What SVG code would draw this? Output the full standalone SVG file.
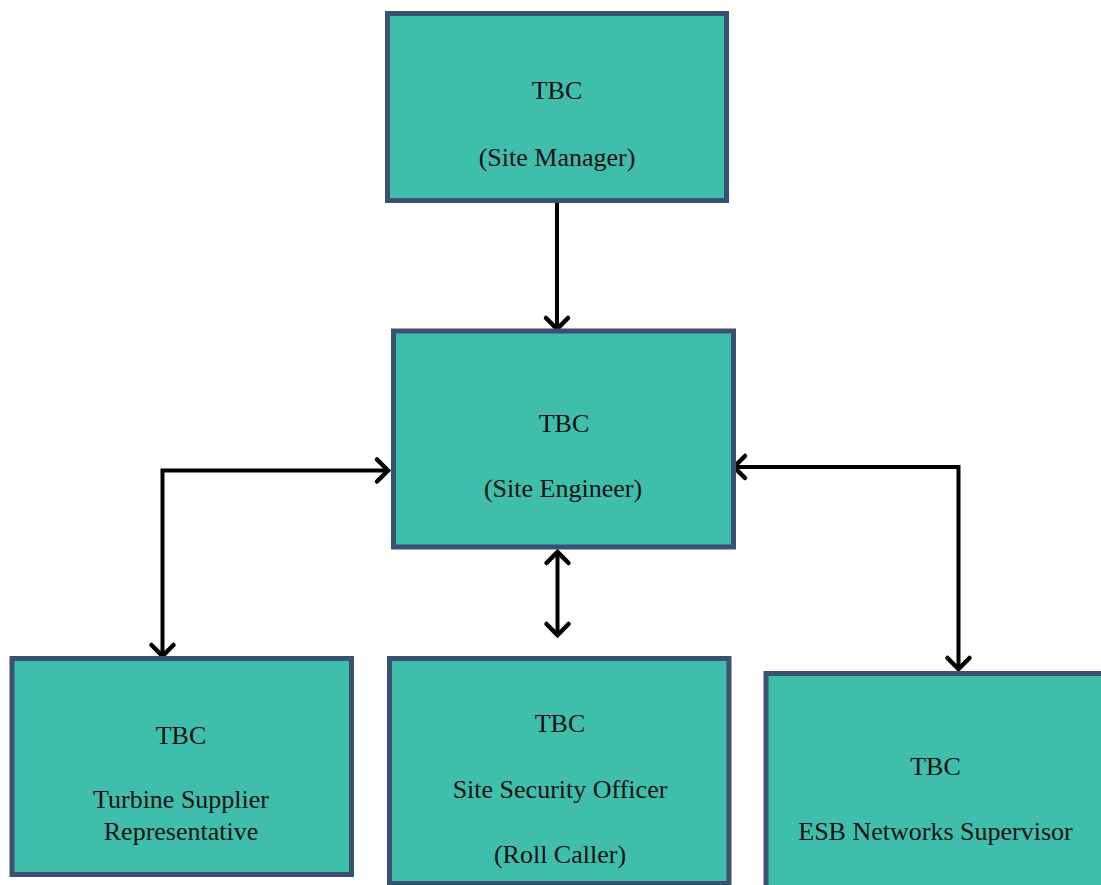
<svg xmlns="http://www.w3.org/2000/svg" width="1101" height="885" viewBox="0 0 1101 885">
<style>
.box{fill:#3fbeab;stroke:#3a5171;stroke-width:5}
.t{font-family:"Liberation Serif","Times New Roman",serif;font-size:26px;fill:#111;text-anchor:middle}
.c{fill:none;stroke:#000;stroke-width:4;stroke-linejoin:miter}
.h{fill:none;stroke:#000;stroke-width:4.5;stroke-linecap:round;stroke-linejoin:miter}
</style>
<rect width="1101" height="885" fill="#fff"/>
<g id="connectors">
<path class="c" d="M557,202 V327"/>
<path class="h" d="M546,318 L557,329 L568,318"/>
<path class="c" d="M385,470.5 H162.5 V654"/>
<path class="h" d="M377,459.5 L388,470.5 L377,481.5"/>
<path class="h" d="M151.5,645 L162.5,656 L173.5,645"/>
<path class="c" d="M557.5,554 V633"/>
<path class="h" d="M546.5,563 L557.5,552 L568.5,563"/>
<path class="h" d="M546.5,624 L557.5,635 L568.5,624"/>
<path class="c" d="M736,467 H958.5 V667"/>
<path class="h" d="M745,456 L734,467 L745,478"/>
<path class="h" d="M947.5,658 L958.5,669 L969.5,658"/>
</g>
<g id="site-manager">
<rect class="box" x="387.5" y="13.5" width="339" height="187"/>
<text class="t" x="557" y="99">TBC</text>
<text class="t" x="557" y="166">(Site Manager)</text>
</g>
<g id="site-engineer">
<rect class="box" x="393.5" y="331" width="340" height="216"/>
<text class="t" x="564" y="432">TBC</text>
<text class="t" x="563" y="497">(Site Engineer)</text>
</g>
<g id="turbine-supplier">
<rect class="box" x="12" y="658.5" width="339.5" height="216"/>
<text class="t" x="181" y="744">TBC</text>
<text class="t" x="181" y="808">Turbine Supplier</text>
<text class="t" x="181" y="840">Representative</text>
</g>
<g id="site-security">
<rect class="box" x="389.5" y="658.5" width="339.5" height="225"/>
<text class="t" x="560" y="732">TBC</text>
<text class="t" x="560" y="798">Site Security Officer</text>
<text class="t" x="560" y="863">(Roll Caller)</text>
</g>
<g id="esb-networks">
<rect class="box" x="766" y="673.5" width="345" height="220"/>
<text class="t" x="935.5" y="775">TBC</text>
<text class="t" x="935.5" y="840">ESB Networks Supervisor</text>
</g>
</svg>
